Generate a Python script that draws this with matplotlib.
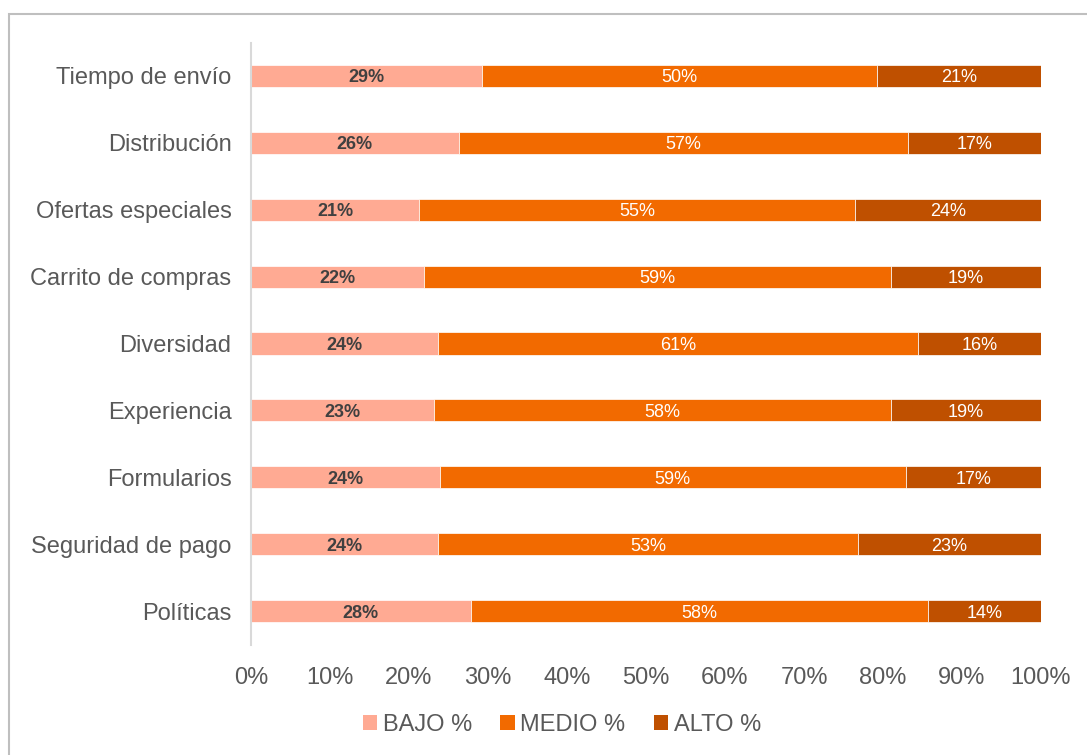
import matplotlib
matplotlib.use("Agg")
import matplotlib.pyplot as plt
import numpy as np
from matplotlib.patches import Rectangle, Patch

plt.rcParams['font.family'] = ['Liberation Sans', 'DejaVu Sans']

# datos (de arriba hacia abajo)
categorias = ["Tiempo de envío", "Distribución", "Ofertas especiales",
              "Carrito de compras", "Diversidad", "Experiencia",
              "Formularios", "Seguridad de pago", "Políticas"]
bajo = [29.2, 26.3, 21.3, 21.9, 23.7, 23.2, 23.9, 23.7, 27.8]
medio = [50.0, 56.9, 55.2, 59.1, 60.7, 57.8, 59.0, 53.1, 57.9]
alto = [20.8, 16.8, 23.5, 19.0, 15.6, 19.0, 17.1, 23.2, 14.3]
etq_bajo = ["29%", "26%", "21%", "22%", "24%", "23%", "24%", "24%", "28%"]
etq_medio = ["50%", "57%", "55%", "59%", "61%", "58%", "59%", "53%", "58%"]
etq_alto = ["21%", "17%", "24%", "19%", "16%", "19%", "17%", "23%", "14%"]
series = ["BAJO %", "MEDIO %", "ALTO %"]
colores = ["#FFAA93", "#F26A00", "#BF5000"]

W, H = 1087, 755
fig = plt.figure(figsize=(W / 100, H / 100), dpi=100)
ax = fig.add_axes([251 / W, 1 - 644.5 / H, 790 / W, 602 / H])

y = np.arange(len(categorias))[::-1]
alto_barra = 0.33
izq = np.zeros(len(categorias))
datos = [bajo, medio, alto]
etiquetas = [etq_bajo, etq_medio, etq_alto]
for vals, col, etqs, nombre in zip(datos, colores, etiquetas, series):
    vals = np.array(vals)
    ax.barh(y, vals, left=izq, height=alto_barra, color=col,
            edgecolor="white", linewidth=0.5, label=nombre)
    for yi, l, v, t in zip(y, izq, vals, etqs):
        if nombre == "BAJO %":
            ax.text(l + v / 2, yi, t, ha="center", va="center_baseline",
                    fontsize=13, fontweight="bold", color="#404040")
        else:
            ax.text(l + v / 2, yi, t, ha="center", va="center_baseline",
                    fontsize=13, color="white")
    izq = izq + vals

ax.set_xlim(0, 100)
ax.set_ylim(-0.5, len(categorias) - 0.5)
ax.set_yticks(y)
ax.set_yticklabels(categorias, fontsize=17, color="#595959")
ax.set_xticks(np.arange(0, 101, 10))
ax.set_xticklabels([f"{v}%" for v in range(0, 101, 10)], fontsize=17, color="#595959")
ax.tick_params(axis="both", length=0)
ax.tick_params(axis="y", pad=14)
ax.tick_params(axis="x", pad=16)
for s in ["top", "right", "bottom"]:
    ax.spines[s].set_visible(False)
ax.spines["left"].set_color("#D9D9D9")
ax.spines["left"].set_linewidth(1.5)

handles = [Patch(facecolor=c, edgecolor="none") for c in colores]
fig.legend(handles, series, loc="center", bbox_to_anchor=(562 / W, 1 - 725 / H),
           ncol=3, frameon=False, fontsize=17, handlelength=0.6, handleheight=0.6,
           handletextpad=0.25, columnspacing=1.2, labelcolor="#595959")

# borde del area del grafico
fig.patches.append(Rectangle((8.5 / W, -0.1), 1.2, 1.1 - 14 / H,
                             transform=fig.transFigure, fill=False,
                             edgecolor="#BFBFBF", linewidth=1.5))

fig.savefig("out.png", dpi=100)
